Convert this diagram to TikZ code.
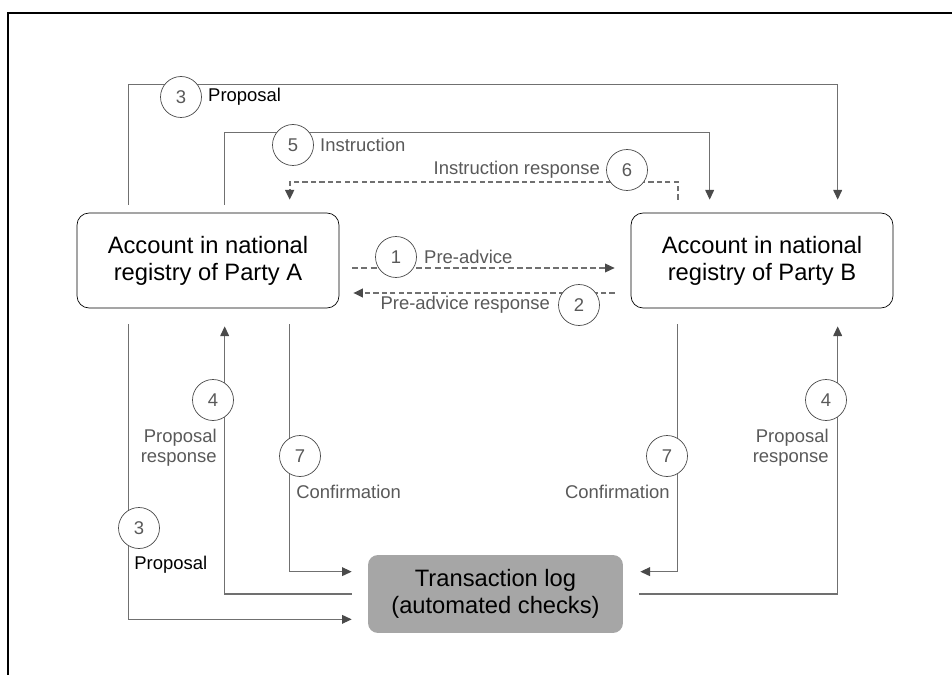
\documentclass[tikz,border=0pt]{standalone}
\usepackage{fontspec}
\setmainfont{Liberation Sans}
\usetikzlibrary{arrows.meta, calc, positioning}

\definecolor{linegray}{HTML}{707070}
\definecolor{tipgray}{HTML}{4A4A4A}
\definecolor{loggray}{HTML}{A6A6A6}
\definecolor{labelgray}{HTML}{595959}

\begin{document}
\begin{tikzpicture}%
    [x = 0.02cm, y = -0.02cm,
     registry/.style = {draw, rounded corners = 0.24cm, align = center,
                        minimum width = 5.24cm, minimum height = 1.9cm,
                        font = \fontsize{13.5}{15.5}\selectfont},
     logbox/.style = {fill = loggray, rounded corners = 0.2cm, align = center,
                      minimum width = 5.1cm, minimum height = 1.56cm,
                      font = \fontsize{13.5}{15.5}\selectfont},
     num/.style = {circle, draw = tipgray, fill = white, inner sep = 0pt,
                   minimum size = 0.82cm, text = labelgray,
                   font = \fontsize{10.5}{11.5}\selectfont},
     lbl/.style = {inner sep = 0pt, text = labelgray, align = center,
                   font = \fontsize{10.5}{11.5}\selectfont},
     flow/.style = {draw = linegray, line width = 0.6pt},
     tip/.style = {-{Triangle[length = 5.5pt, width = 5pt, color = tipgray]}},
     thindash/.style = {dash pattern = on 3.4pt off 1.8pt},
     thickdash/.style = {line width = 1.1pt, dash pattern = on 3pt off 1.8pt}]

    \useasboundingbox (0, 0) rectangle (952, 675);
    \draw[line width = 0.6pt] (8, 675) -- (8, 13) -- (952, 13);

    \node[registry] (A) at (208, 260.5) {Account in national\\registry of Party A};
    \node[registry] (B) at (762, 260.5) {Account in national\\registry of Party B};
    \node[logbox] (L) at (495.5, 594) {Transaction log\\(automated checks)};

    % messages between the registries
    \draw[flow, tip] ($(A.north west)+(52,-8)$) -- ++(0,-120) -| ($(B.north west)+(207,-13)$);
    \draw[flow, tip] ($(A.north west)+(148,-8)$) -- ++(0,-72) -| ($(B.north west)+(79,-13)$);
    \draw[flow, thickdash, tip] ($(B.north west)+(47,-13)$) -- ++(0,-18) -| ($(A.north west)+(213,-13)$);
    \draw[flow, thindash, tip] ($(A.east)+(13,7.5)$) -- ($(B.west)+(-16,7.5)$);
    \draw[flow, thickdash, tip] ($(B.west)+(-16,32.5)$) -- ($(A.east)+(14,32.5)$);

    % messages to and from the transaction log
    \draw[flow, tip] ($(A.south west)+(52,16)$) |- ($(L.south west)+(-16,-14)$);
    \draw[flow, tip] ($(L.west)+(-16,0)$) -| ($(A.south west)+(148,18)$);
    \draw[flow, tip] ($(A.south west)+(213,16)$) |- ($(L.north west)+(-16,17)$);
    \draw[flow, tip] ($(B.south west)+(47,16)$) |- ($(L.north east)+(17,17)$);
    \draw[flow, tip] ($(L.east)+(16,0)$) -| ($(B.south west)+(207,18)$);

    % step numbers
    \node[num] (n3top) at (181, 97) {3};
    \node[num] (n5) at (293, 145) {5};
    \node[num] (n6) at (627, 170) {6};
    \node[num] (n1) at (396, 257) {1};
    \node[num] (n2) at (579, 305) {2};
    \node[num] (n4a) at (213, 400) {4};
    \node[num] (n7a) at (300, 456) {7};
    \node[num] (n7b) at (667, 456) {7};
    \node[num] (n4b) at (826, 400) {4};
    \node[num] (n3low) at (139, 528) {3};

    \node[lbl, text = black, right = 0.12cm of n3top] {Proposal};
    \node[lbl, right = 0.12cm of n5] {Instruction};
    \node[lbl, left = 0.12cm of n6] {Instruction response};
    \node[lbl, right = 0.14cm of n1] {Pre-advice};
    \node[lbl, left = 0.16cm of n2] {Pre-advice response};
    \node[lbl, anchor = east, align = right] at (217, 448) {Proposal\\response};
    \node[lbl, anchor = west] at (296, 492) {Confirmation};
    \node[lbl, anchor = east] at (670, 492) {Confirmation};
    \node[lbl, anchor = east, align = right] at (829, 448) {Proposal\\response};
    \node[lbl, text = black, anchor = west] at (134, 565) {Proposal};
\end{tikzpicture}
\end{document}
